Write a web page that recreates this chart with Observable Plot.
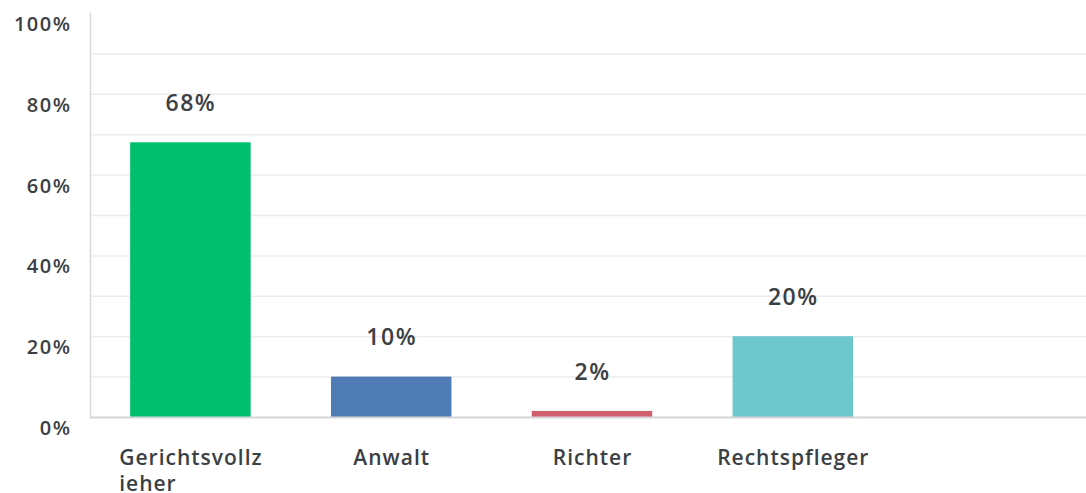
<!DOCTYPE html>
<html>
<head>
<meta charset="utf-8">
<script src="https://cdn.jsdelivr.net/npm/d3@7"></script>
<script src="https://cdn.jsdelivr.net/npm/@observablehq/plot@0.6"></script>
<style>
  html, body { margin: 0; padding: 0; background: #ffffff; }
  #chart svg { display: block; }
  g[aria-label="x-axis tick label"] { letter-spacing: 1px; }
  g[aria-label="y-axis tick label"] { letter-spacing: 1.5px; }
  g[aria-label="text"] { letter-spacing: 1.5px; }
</style>
</head>
<body>
<div id="chart"></div>
<script>
// ---- Data ----
const categories = ["Gerichtsvollzieher", "Anwalt", "Richter", "Rechtspfleger"];
const tickLabels = ["Gerichtsvollz\nieher", "Anwalt", "Richter", "Rechtspfleger"];
const values = [68, 10, 1.5, 20];
const valueLabels = ["68%", "10%", "2%", "20%"];
const barColors = ["#00bf6f", "#507cb6", "#cf5f6c", "#6cc8cc"];
const yTicks = [0, 20, 40, 60, 80, 100];
const yGrid = [10, 20, 30, 40, 50, 60, 70, 80, 90];

const rows = categories.map((c, i) => ({cat: c, value: values[i], label: valueLabels[i], color: barColors[i]}));

// ---- Layout ----
const W = 1086, H = 493;
const mLeft = 90, mTop = 13, mBottom = 76;
const step = 200.8;
const textColor = "#3b4045";
const font = "'Open Sans', sans-serif";

const chart = Plot.plot({
  width: W,
  height: H,
  marginLeft: mLeft,
  marginRight: 0,
  marginTop: mTop,
  marginBottom: mBottom,
  style: {fontFamily: font, color: textColor, background: "#ffffff"},
  x: {
    domain: categories,
    range: [mLeft, mLeft + categories.length * step],
    paddingInner: 0.4,
    paddingOuter: 0.2,
    round: false,
    label: null
  },
  y: {domain: [0, 100], label: null},
  color: {type: "identity"},
  marks: [
    Plot.gridY(yGrid, {stroke: "#ececec", strokeOpacity: 1, strokeWidth: 1.5}),
    Plot.frame({anchor: "left", stroke: "#d9d9d9", strokeWidth: 1.5}),
    Plot.barY(rows, {x: "cat", y: "value", fill: "color"}),
    Plot.ruleY([0], {stroke: "#d6d6d6", strokeWidth: 2}),
    Plot.text(rows, {x: "cat", y: "value", text: "label", dy: -39, fontSize: 23, fontWeight: 600, fill: textColor}),
    Plot.axisY(yTicks, {
      tickSize: 0, tickPadding: 19, dy: 11,
      tickFormat: d => d + "%",
      fontSize: 20, fontWeight: 600, fill: textColor, label: null
    }),
    Plot.axisX({
      tickSize: 0, tickPadding: 30,
      tickFormat: (d) => tickLabels[categories.indexOf(d)],
      fontSize: 21, fontWeight: 600, fill: textColor, lineHeight: 1.2, label: null
    })
  ]
});

document.getElementById("chart").appendChild(chart);

// Left-align the wrapped first label as a centered block (as in the reference)
const xg = chart.querySelector('g[aria-label="x-axis tick label"]');
if (xg) {
  xg.querySelectorAll("text").forEach(t => {
    if (t.querySelectorAll("tspan").length > 1) {
      const bb = t.getBBox();
      t.setAttribute("text-anchor", "start");
      t.querySelectorAll("tspan").forEach(s => s.setAttribute("x", bb.x));
    }
  });
}
</script>
</body>
</html>
